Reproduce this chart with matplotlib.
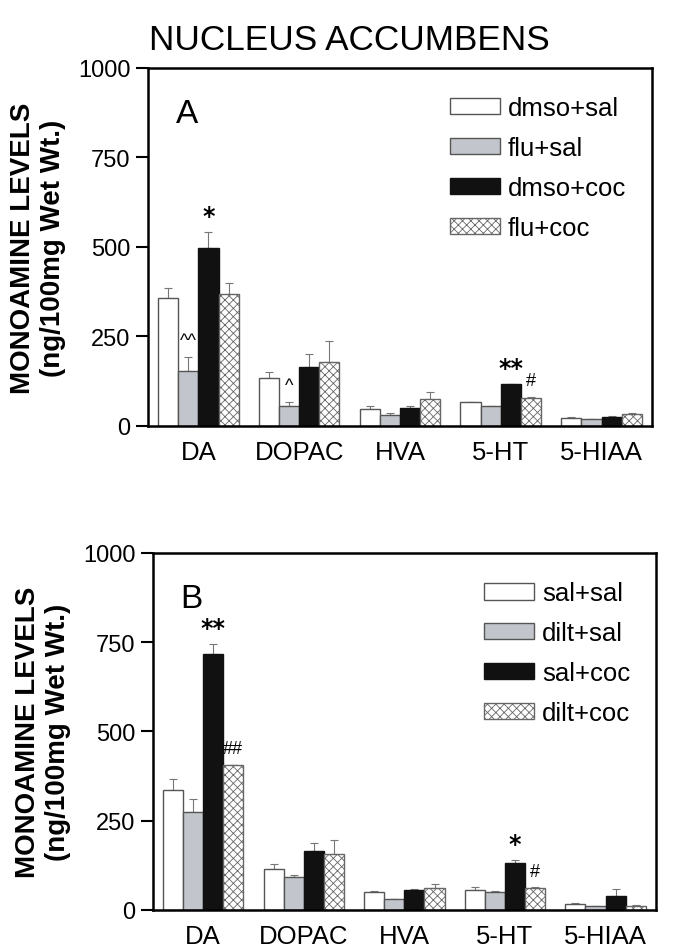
import numpy as np
import matplotlib
matplotlib.use("Agg")
import matplotlib.pyplot as plt

plt.rcParams['font.family'] = ['Liberation Sans', 'DejaVu Sans']
plt.rcParams['hatch.linewidth'] = 0.6

compounds = ["DA", "DOPAC", "HVA", "5-HT", "5-HIAA"]

labels_a = ["dmso+sal", "flu+sal", "dmso+coc", "flu+coc"]
means_a = [
    [357, 134, 47, 67, 23],
    [154, 56, 31, 56, 18],
    [497, 165, 50, 116, 26],
    [369, 179, 74, 78, 33],
]
tops_a = [
    [385, 151, 56, 68, 24],
    [193, 67, 36, 57, 19],
    [542, 201, 56, 117, 28],
    [400, 237, 95, 80, 35],
]
# (series, compound, text)
marks_a = [(1, 0, "^^"), (2, 0, "*"), (1, 1, "^"), (2, 3, "**"), (3, 3, "#")]

labels_b = ["sal+sal", "dilt+sal", "sal+coc", "dilt+coc"]
means_b = [
    [336, 115, 50, 56, 18],
    [275, 92, 31, 51, 11],
    [717, 165, 57, 132, 39],
    [406, 157, 62, 62, 12],
]
tops_b = [
    [367, 129, 54, 64, 19],
    [311, 98, 32, 52, 12],
    [745, 189, 58, 140, 59],
    [407, 196, 73, 63, 13],
]
marks_b = [(2, 0, "**"), (3, 0, "##"), (2, 3, "*"), (3, 3, "#")]

fills = ["white", "#c2c6cc", "#111111", "white"]
hatches = [None, None, None, "xxxx"]
edges = ["#555555", "#555555", "#111111", "#666666"]


def panel(ax, letter, labels, means, tops, marks):
    x = np.arange(len(compounds))
    w = 0.2
    for i in range(4):
        pos = x + (i - 1.5) * w
        m = np.array(means[i])
        t = np.array(tops[i])
        ax.bar(pos, m, w, color=fills[i], edgecolor=edges[i], hatch=hatches[i],
               linewidth=1.0, label=labels[i], zorder=2)
        ax.errorbar(pos, m, yerr=[np.zeros_like(m), t - m], fmt="none",
                    ecolor="#777777", elinewidth=0.8, capsize=3, capthick=0.8,
                    zorder=1)
    for i, j, s in marks:
        px = x[j] + (i - 1.5) * w
        big = "*" in s
        if big:
            ax.text(px, tops[i][j] + 12, s, ha="center", va="bottom",
                    fontsize=17, fontweight="bold", family="DejaVu Sans")
        else:
            ax.text(px, tops[i][j] + 22, s, ha="center", va="bottom",
                    fontsize=13)
    ax.set_xlim(-0.5, 4.5)
    ax.set_ylim(0, 1000)
    ax.set_yticks([0, 250, 500, 750, 1000])
    ax.set_xticks(x)
    ax.set_xticklabels(compounds, fontsize=18.5)
    ax.tick_params(axis="y", labelsize=17, length=9, width=1.5, direction="out")
    ax.tick_params(axis="x", length=0, pad=10)
    for sp in ax.spines.values():
        sp.set_linewidth(1.8)
    ax.set_ylabel("MONOAMINE LEVELS\n(ng/100mg Wet Wt.)", fontsize=20,
                  fontweight="bold", labelpad=9, linespacing=1.2)
    ax.text(0.055, 0.915, letter, transform=ax.transAxes, fontsize=24,
            va="top", ha="left")
    ax.legend(loc="upper right", bbox_to_anchor=(0.995, 0.985), frameon=False,
              fontsize=18.5, handlelength=1.95, handleheight=0.6,
              labelspacing=0.62, handletextpad=0.3)


fig = plt.figure(figsize=(6.98, 9.53), dpi=100)
ax_a = fig.add_axes([0.212, 0.552, 0.722, 0.3757])
ax_b = fig.add_axes([0.219, 0.0441, 0.7206, 0.3746])
panel(ax_a, "A", labels_a, means_a, tops_a, marks_a)
panel(ax_b, "B", labels_b, means_b, tops_b, marks_b)

fig.text(0.5, 0.957, "NUCLEUS ACCUMBENS", ha="center", va="center", fontsize=25.3)

fig.savefig("out.png", dpi=100)
